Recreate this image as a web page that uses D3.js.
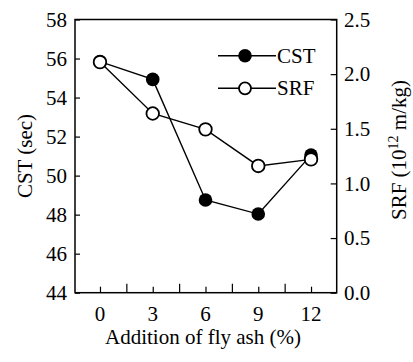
<!DOCTYPE html>
<html><head><meta charset="utf-8">
<script src="https://cdn.jsdelivr.net/npm/d3@7"></script>
<style>body{margin:0;background:#fff}svg{display:block}text{font-family:"Liberation Serif","Times New Roman",serif;fill:#000}</style>
</head><body><svg id="c" width="413" height="362"></svg>
<script>
const flyAsh = [0, 3, 6, 9, 12];
const cstValues = [55.84, 54.93, 48.75, 48.03, 51.05];
const srfValues = [2.11, 1.64, 1.495, 1.16, 1.22];
const cstTicks = [44, 46, 48, 50, 52, 54, 56, 58];
const srfTicks = [0, 0.5, 1.0, 1.5, 2.0, 2.5];
const xMajorTicks = [0, 3, 6, 9, 12];
const xMinorTicks = [1.5, 4.5, 7.5, 10.5];

const svg = d3.select("#c");
const L = 75, R = 336.7, T = 19.5, B = 292.7;
const x = d3.scaleLinear().domain([-1.42, 13.46]).range([L, R]);
const yL = d3.scaleLinear().domain([44, 58]).range([B, T]);
const yR = d3.scaleLinear().domain([0, 2.5]).range([B, T]);

svg.append("rect").attr("x", L).attr("y", T).attr("width", R - L).attr("height", B - T)
  .attr("fill", "none").attr("stroke", "#000").attr("stroke-width", 1.5);

const fs = 21;
// left axis
const gl = svg.append("g").attr("transform", `translate(${L},0)`);
gl.call(d3.axisRight(yL).tickValues(cstTicks).tickSize(5).tickFormat(""));
gl.select(".domain").remove();
svg.append("g").selectAll("text").data(cstTicks).join("text")
  .attr("x", 67).attr("y", d => yL(d)).attr("dy", "0.34em")
  .attr("text-anchor", "end").attr("font-size", fs).text(d => d);

// right axis
const gr = svg.append("g").attr("transform", `translate(${R},0)`);
gr.call(d3.axisLeft(yR).tickValues(srfTicks).tickSize(6).tickFormat(""));
gr.select(".domain").remove();
svg.append("g").selectAll("text").data(srfTicks).join("text")
  .attr("x", 344).attr("y", d => yR(d)).attr("dy", "0.34em")
  .attr("text-anchor", "start").attr("font-size", fs).text(d => d.toFixed(1));

// bottom axis
const gb = svg.append("g").attr("transform", `translate(0,${B})`);
gb.call(d3.axisTop(x).tickValues(xMajorTicks).tickSize(6).tickFormat(""));
gb.select(".domain").remove();
const gb2 = svg.append("g").attr("transform", `translate(0,${B})`);
gb2.call(d3.axisTop(x).tickValues(xMinorTicks).tickSize(9).tickFormat(""));
gb2.select(".domain").remove();
svg.selectAll("g line").attr("stroke-width", 1.2);
svg.append("g").selectAll("text").data(xMajorTicks).join("text")
  .attr("x", d => x(d)).attr("y", 321)
  .attr("text-anchor", "middle").attr("font-size", fs).text(d => d);

// titles
svg.append("text").attr("x", 203).attr("y", 344).attr("text-anchor", "middle")
  .attr("font-size", fs).text("Addition of fly ash (%)");
svg.append("text").attr("transform", "translate(32,156) rotate(-90)").attr("text-anchor", "middle")
  .attr("font-size", fs).text("CST (sec)");
const rt = svg.append("text").attr("transform", "translate(406,150) rotate(-90)").attr("text-anchor", "middle")
  .attr("font-size", fs);
rt.append("tspan").text("SRF (10");
rt.append("tspan").attr("font-size", 14).attr("dy", -8).text("12");
rt.append("tspan").attr("dy", 8).text(" m/kg)");

// lines
const lineC = d3.line().x((d, i) => x(flyAsh[i])).y(d => yL(d));
const lineS = d3.line().x((d, i) => x(flyAsh[i])).y(d => yR(d));
svg.append("path").attr("d", lineC(cstValues)).attr("fill", "none").attr("stroke", "#000").attr("stroke-width", 1.4);
svg.append("path").attr("d", lineS(srfValues)).attr("fill", "none").attr("stroke", "#000").attr("stroke-width", 1.4);
svg.append("g").selectAll("circle").data(cstValues).join("circle")
  .attr("cx", (d, i) => x(flyAsh[i])).attr("cy", d => yL(d)).attr("r", 6.8).attr("fill", "#000");
svg.append("g").selectAll("circle").data(srfValues).join("circle")
  .attr("cx", (d, i) => x(flyAsh[i])).attr("cy", d => yR(d)).attr("r", 6.3)
  .attr("fill", "#fff").attr("stroke", "#000").attr("stroke-width", 1.8);

// legend
const leg = [{name: "CST", y: 55.7, filled: true}, {name: "SRF", y: 88.3, filled: false}];
leg.forEach(l => {
  svg.append("line").attr("x1", 218).attr("x2", 276).attr("y1", l.y).attr("y2", l.y)
    .attr("stroke", "#000").attr("stroke-width", 1.4);
  svg.append("circle").attr("cx", 245).attr("cy", l.y).attr("r", l.filled ? 6.8 : 6.0)
    .attr("fill", l.filled ? "#000" : "#fff").attr("stroke", "#000").attr("stroke-width", l.filled ? 0 : 1.8);
  svg.append("text").attr("x", 277).attr("y", l.y).attr("dy", "0.34em").attr("font-size", fs).text(l.name);
});
</script></body></html>
